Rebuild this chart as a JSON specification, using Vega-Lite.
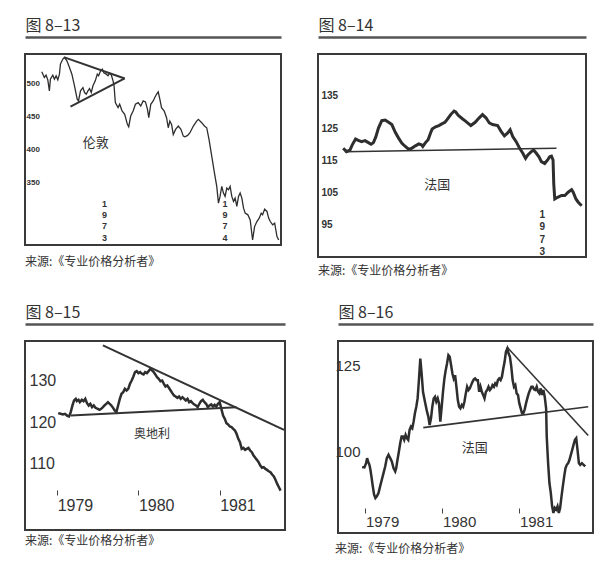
{
"$schema": "https://vega.github.io/schema/vega-lite/v6.json",
"background": "white",
"padding": {"left": 24, "top": 16, "right": 0, "bottom": 0},
"config": {
  "view": {"stroke": "#3a3a3a", "strokeWidth": 2},
  "font": "Noto Sans CJK SC",
  "axis": {"grid": false},
  "title": {"font": "Noto Sans CJK SC", "fontSize": 12, "fontWeight": "normal", "color": "#333", "anchor": "start", "orient": "bottom"}
},
"datasets": {
  "p1": [{"t":16.7,"v":517.2},{"t":19.3,"v":508.6},{"t":21,"v":512.1},{"t":22.7,"v":505},{"t":24.3,"v":488.4},{"t":25.3,"v":506},{"t":27.7,"v":512},{"t":29.3,"v":506},{"t":31,"v":511},{"t":32.7,"v":505},{"t":34.3,"v":513.6},{"t":35.3,"v":528.8},{"t":37.7,"v":536.4},{"t":39.3,"v":538.9},{"t":41.7,"v":533.8},{"t":44.3,"v":523.7},{"t":46.7,"v":513.6},{"t":49.3,"v":496},{"t":52,"v":475.8},{"t":53.3,"v":473.2},{"t":55.3,"v":488.4},{"t":57.7,"v":493.4},{"t":59.3,"v":485.9},{"t":61,"v":483.3},{"t":62.7,"v":488.4},{"t":64.3,"v":491.9},{"t":66,"v":485.9},{"t":67.7,"v":496},{"t":70,"v":503.5},{"t":72,"v":513.6},{"t":73.3,"v":511.1},{"t":75.3,"v":518.7},{"t":77,"v":521.2},{"t":78.7,"v":515.2},{"t":81,"v":513.6},{"t":82.7,"v":511.1},{"t":84.3,"v":515.2},{"t":86,"v":512.1},{"t":87.7,"v":503.5},{"t":88.7,"v":496},{"t":90,"v":470.7},{"t":92.7,"v":463.1},{"t":94.3,"v":468.2},{"t":96.7,"v":458.1},{"t":99.3,"v":453},{"t":102,"v":437.9},{"t":103.3,"v":434.3},{"t":105.3,"v":450.5},{"t":107.7,"v":458.1},{"t":110,"v":468.2},{"t":112.7,"v":470.7},{"t":115.3,"v":465.7},{"t":117.7,"v":473.2},{"t":120,"v":471.7},{"t":122,"v":460.6},{"t":123.3,"v":448},{"t":125.3,"v":468.2},{"t":127.7,"v":473.2},{"t":129.3,"v":478.3},{"t":131,"v":483.3},{"t":132.7,"v":486.9},{"t":134.3,"v":475.8},{"t":136,"v":463.1},{"t":138.7,"v":458.1},{"t":141,"v":448},{"t":142.7,"v":432.8},{"t":144.3,"v":442.9},{"t":146,"v":437.9},{"t":147.7,"v":422.7},{"t":150,"v":430.3},{"t":152.7,"v":435.4},{"t":155.3,"v":430.3},{"t":157.7,"v":420.2},{"t":159.3,"v":419.2},{"t":162,"v":421.2},{"t":164.3,"v":425.3},{"t":167.7,"v":435.4},{"t":171,"v":442.9},{"t":172.7,"v":445.5},{"t":176,"v":440.4},{"t":178.7,"v":435.4},{"t":181,"v":432.8},{"t":183.3,"v":415.2},{"t":186,"v":389.9},{"t":188.7,"v":364.6},{"t":191,"v":344.4},{"t":192.7,"v":319.2},{"t":194.3,"v":329.3},{"t":196,"v":344.4},{"t":197.7,"v":334.3},{"t":199.3,"v":329.3},{"t":201,"v":341.9},{"t":202.7,"v":339.4},{"t":204.3,"v":344.4},{"t":206,"v":329.3},{"t":207.7,"v":321.7},{"t":209.3,"v":326.8},{"t":211,"v":314.1},{"t":212.7,"v":329.3},{"t":214.3,"v":334.3},{"t":216,"v":326.8},{"t":217.7,"v":311.6},{"t":219.3,"v":304},{"t":222,"v":301.5},{"t":224.3,"v":293.9},{"t":226.7,"v":263.6},{"t":228.7,"v":283.8},{"t":231,"v":291.4},{"t":233.3,"v":296.5},{"t":235.3,"v":304},{"t":236.7,"v":301.5},{"t":238.7,"v":310.1},{"t":241,"v":306.6},{"t":242.7,"v":296.5},{"t":244.3,"v":291.4},{"t":246.7,"v":286.4},{"t":248.7,"v":288.9},{"t":251,"v":268.7},{"t":252.7,"v":263.6}],
  "p1t": [{"seg":"a","t":39.3,"v":538.9},{"seg":"a","t":99.3,"v":507.1},{"seg":"b","t":45.3,"v":464.6},{"seg":"b","t":99.3,"v":507.1}],
  "p1y": [{"t":79.3,"label":"1\n9\n7\n3"},{"t":199.3,"label":"1\n9\n7\n4"}],
  "p2": [{"t":25,"v":118.75},{"t":28.3,"v":117.7},{"t":31.7,"v":118.2},{"t":34,"v":119.8},{"t":37.3,"v":121.6},{"t":40,"v":121.2},{"t":43.3,"v":120.8},{"t":46.7,"v":121.1},{"t":50,"v":120.5},{"t":52.7,"v":120},{"t":55,"v":120.5},{"t":57.3,"v":122.2},{"t":60,"v":125},{"t":63.3,"v":127.3},{"t":66.7,"v":127.5},{"t":70,"v":126.8},{"t":73.3,"v":126.1},{"t":76.7,"v":123.7},{"t":80,"v":121.9},{"t":83.3,"v":120.3},{"t":86.7,"v":119.3},{"t":90,"v":118.4},{"t":93.3,"v":118.8},{"t":96.7,"v":119.5},{"t":100,"v":120.1},{"t":102.7,"v":119.8},{"t":104,"v":119.3},{"t":106.7,"v":120.5},{"t":109.3,"v":121.4},{"t":111.7,"v":123.5},{"t":113.3,"v":124.7},{"t":116.7,"v":125.4},{"t":120,"v":125.8},{"t":123.3,"v":126.4},{"t":126,"v":126.8},{"t":128.3,"v":127.7},{"t":131.7,"v":129.2},{"t":135,"v":130.3},{"t":136.7,"v":130},{"t":139.3,"v":128.9},{"t":143.3,"v":127.9},{"t":146.7,"v":127.1},{"t":151.7,"v":125.8},{"t":156,"v":126.8},{"t":160,"v":128.2},{"t":163.3,"v":129.2},{"t":166.7,"v":128.2},{"t":170,"v":126.6},{"t":173.3,"v":126.1},{"t":178.3,"v":125.8},{"t":181.7,"v":124},{"t":185,"v":122.6},{"t":188.3,"v":123.5},{"t":190.7,"v":124.5},{"t":193.3,"v":122.4},{"t":196.7,"v":120.8},{"t":200,"v":118.8},{"t":203.3,"v":117.2},{"t":206,"v":115.6},{"t":208.3,"v":116.7},{"t":211.7,"v":117.7},{"t":214,"v":118.2},{"t":216.7,"v":117.2},{"t":219.3,"v":116.1},{"t":221.7,"v":114.6},{"t":225,"v":114},{"t":228.3,"v":115.3},{"t":230,"v":116.1},{"t":231.7,"v":116.3},{"t":233.3,"v":115.1},{"t":234,"v":107.7},{"t":235,"v":103},{"t":238.3,"v":103.6},{"t":241.7,"v":104.1},{"t":245,"v":104.1},{"t":248.3,"v":105.1},{"t":251.7,"v":105.9},{"t":253.3,"v":105.1},{"t":256,"v":103},{"t":258.3,"v":102},{"t":261.7,"v":100.9}],
  "p2t": [{"seg":"a","t":26.7,"v":117.7},{"seg":"a","t":236.7,"v":118.75}],
  "p2y": [{"t":222.7,"label":"1\n9\n7\n3"}],
  "p3": [{"year":1979.013,"v":122.13},{"year":1979.042,"v":121.97},{"year":1979.071,"v":121.81},{"year":1979.096,"v":121.97},{"year":1979.125,"v":121.49},{"year":1979.146,"v":121.33},{"year":1979.167,"v":122.37},{"year":1979.188,"v":123.98},{"year":1979.208,"v":125.18},{"year":1979.229,"v":125.58},{"year":1979.242,"v":125.02},{"year":1979.263,"v":125.34},{"year":1979.279,"v":124.78},{"year":1979.304,"v":125.34},{"year":1979.325,"v":125.02},{"year":1979.346,"v":125.58},{"year":1979.367,"v":124.54},{"year":1979.388,"v":123.98},{"year":1979.408,"v":124.38},{"year":1979.429,"v":123.57},{"year":1979.45,"v":123.98},{"year":1979.471,"v":123.41},{"year":1979.5,"v":123.17},{"year":1979.521,"v":122.93},{"year":1979.542,"v":123.17},{"year":1979.563,"v":123.57},{"year":1979.583,"v":123.98},{"year":1979.604,"v":124.38},{"year":1979.625,"v":124.78},{"year":1979.646,"v":124.38},{"year":1979.667,"v":123.98},{"year":1979.688,"v":123.41},{"year":1979.708,"v":122.77},{"year":1979.729,"v":122.37},{"year":1979.75,"v":123.98},{"year":1979.771,"v":125.58},{"year":1979.792,"v":126.79},{"year":1979.813,"v":127.19},{"year":1979.833,"v":127.99},{"year":1979.854,"v":127.59},{"year":1979.875,"v":127.99},{"year":1979.896,"v":129.2},{"year":1979.917,"v":130},{"year":1979.938,"v":130.96},{"year":1979.958,"v":132.01},{"year":1979.979,"v":132.25},{"year":1980.0,"v":131.77},{"year":1980.021,"v":132.01},{"year":1980.042,"v":131.61},{"year":1980.063,"v":131.45},{"year":1980.083,"v":132.01},{"year":1980.104,"v":131.77},{"year":1980.125,"v":132.25},{"year":1980.146,"v":132.81},{"year":1980.167,"v":132.41},{"year":1980.188,"v":132.01},{"year":1980.208,"v":131.45},{"year":1980.229,"v":130.8},{"year":1980.25,"v":130.4},{"year":1980.271,"v":129.84},{"year":1980.292,"v":130},{"year":1980.313,"v":129.2},{"year":1980.333,"v":128.55},{"year":1980.354,"v":128.8},{"year":1980.375,"v":128.23},{"year":1980.396,"v":127.59},{"year":1980.417,"v":126.95},{"year":1980.438,"v":126.39},{"year":1980.458,"v":126.14},{"year":1980.479,"v":125.82},{"year":1980.5,"v":126.14},{"year":1980.521,"v":125.58},{"year":1980.542,"v":125.98},{"year":1980.563,"v":125.58},{"year":1980.583,"v":125.18},{"year":1980.604,"v":125.58},{"year":1980.625,"v":124.78},{"year":1980.646,"v":125.02},{"year":1980.667,"v":124.54},{"year":1980.688,"v":124.22},{"year":1980.708,"v":123.98},{"year":1980.729,"v":123.57},{"year":1980.75,"v":124.38},{"year":1980.771,"v":125.02},{"year":1980.792,"v":125.34},{"year":1980.813,"v":124.78},{"year":1980.833,"v":124.38},{"year":1980.854,"v":123.57},{"year":1980.875,"v":123.98},{"year":1980.896,"v":124.22},{"year":1980.917,"v":123.73},{"year":1980.938,"v":124.14},{"year":1980.958,"v":123.73},{"year":1980.979,"v":124.38},{"year":1981.0,"v":124.78},{"year":1981.021,"v":123.17},{"year":1981.042,"v":121.57},{"year":1981.063,"v":120.76},{"year":1981.083,"v":119.72},{"year":1981.104,"v":119.4},{"year":1981.125,"v":118.92},{"year":1981.146,"v":118.76},{"year":1981.167,"v":118.35},{"year":1981.188,"v":117.95},{"year":1981.208,"v":117.15},{"year":1981.229,"v":115.94},{"year":1981.25,"v":115.14},{"year":1981.271,"v":113.53},{"year":1981.292,"v":113.78},{"year":1981.313,"v":113.29},{"year":1981.333,"v":113.53},{"year":1981.354,"v":113.78},{"year":1981.375,"v":113.13},{"year":1981.396,"v":112.73},{"year":1981.417,"v":111.93},{"year":1981.438,"v":111.37},{"year":1981.458,"v":110.88},{"year":1981.479,"v":110.32},{"year":1981.5,"v":109.52},{"year":1981.521,"v":108.96},{"year":1981.542,"v":109.12},{"year":1981.563,"v":108.71},{"year":1981.583,"v":108.47},{"year":1981.604,"v":108.15},{"year":1981.625,"v":107.91},{"year":1981.646,"v":107.35},{"year":1981.667,"v":106.87},{"year":1981.688,"v":106.06},{"year":1981.708,"v":105.1},{"year":1981.729,"v":104.3},{"year":1981.75,"v":103.49}],
  "p3t": [{"seg":"a","year":1979.563,"v":138.43},{"seg":"a","year":1981.792,"v":118.11},{"seg":"b","year":1979.167,"v":121.57},{"seg":"b","year":1981.208,"v":123.57}],
  "p4": [{"year":1978.957,"v":95.48},{"year":1978.987,"v":95.38},{"year":1979.009,"v":96.63},{"year":1979.022,"v":98.08},{"year":1979.035,"v":97.12},{"year":1979.052,"v":96.15},{"year":1979.065,"v":94.71},{"year":1979.078,"v":92.79},{"year":1979.096,"v":89.9},{"year":1979.113,"v":87.5},{"year":1979.13,"v":86.54},{"year":1979.148,"v":87.02},{"year":1979.17,"v":87.98},{"year":1979.191,"v":89.9},{"year":1979.213,"v":91.83},{"year":1979.235,"v":93.75},{"year":1979.257,"v":95.67},{"year":1979.278,"v":98.08},{"year":1979.3,"v":99.04},{"year":1979.322,"v":98.08},{"year":1979.343,"v":97.12},{"year":1979.365,"v":95.19},{"year":1979.387,"v":94.23},{"year":1979.4,"v":95.19},{"year":1979.413,"v":97.12},{"year":1979.435,"v":100},{"year":1979.452,"v":102.4},{"year":1979.47,"v":104.33},{"year":1979.487,"v":104.33},{"year":1979.504,"v":103.37},{"year":1979.522,"v":104.81},{"year":1979.539,"v":103.85},{"year":1979.556,"v":103.37},{"year":1979.574,"v":106.25},{"year":1979.591,"v":107.21},{"year":1979.609,"v":106.73},{"year":1979.626,"v":108.65},{"year":1979.643,"v":111.06},{"year":1979.661,"v":112.98},{"year":1979.678,"v":115.38},{"year":1979.695,"v":120.67},{"year":1979.713,"v":126.92},{"year":1979.73,"v":122.6},{"year":1979.748,"v":117.31},{"year":1979.765,"v":115.38},{"year":1979.782,"v":113.46},{"year":1979.8,"v":111.54},{"year":1979.817,"v":110.1},{"year":1979.834,"v":107.69},{"year":1979.852,"v":109.62},{"year":1979.869,"v":112.98},{"year":1979.887,"v":115.38},{"year":1979.904,"v":115.87},{"year":1979.921,"v":114.42},{"year":1979.939,"v":115.38},{"year":1979.956,"v":113.94},{"year":1979.973,"v":108.65},{"year":1979.991,"v":112.98},{"year":1980.008,"v":117.31},{"year":1980.026,"v":121.15},{"year":1980.043,"v":123.56},{"year":1980.06,"v":125.48},{"year":1980.078,"v":127.88},{"year":1980.095,"v":127.4},{"year":1980.113,"v":125},{"year":1980.13,"v":122.6},{"year":1980.147,"v":121.15},{"year":1980.165,"v":122.12},{"year":1980.182,"v":118.75},{"year":1980.2,"v":114.9},{"year":1980.217,"v":112.98},{"year":1980.234,"v":112.5},{"year":1980.252,"v":113.46},{"year":1980.269,"v":112.98},{"year":1980.286,"v":114.42},{"year":1980.304,"v":116.83},{"year":1980.321,"v":118.75},{"year":1980.339,"v":117.79},{"year":1980.356,"v":118.27},{"year":1980.373,"v":119.23},{"year":1980.391,"v":120.19},{"year":1980.408,"v":120.87},{"year":1980.425,"v":121.15},{"year":1980.443,"v":120.67},{"year":1980.46,"v":120.67},{"year":1980.478,"v":117.31},{"year":1980.495,"v":118.75},{"year":1980.512,"v":117.31},{"year":1980.53,"v":116.35},{"year":1980.547,"v":115.38},{"year":1980.565,"v":117.31},{"year":1980.582,"v":117.79},{"year":1980.599,"v":118.75},{"year":1980.617,"v":117.79},{"year":1980.634,"v":118.27},{"year":1980.651,"v":119.23},{"year":1980.669,"v":118.75},{"year":1980.686,"v":119.71},{"year":1980.704,"v":119.23},{"year":1980.721,"v":120.67},{"year":1980.738,"v":121.15},{"year":1980.756,"v":120.67},{"year":1980.773,"v":121.63},{"year":1980.791,"v":124.04},{"year":1980.808,"v":125.96},{"year":1980.825,"v":128.85},{"year":1980.843,"v":129.81},{"year":1980.86,"v":128.37},{"year":1980.877,"v":127.4},{"year":1980.895,"v":124.52},{"year":1980.912,"v":120.67},{"year":1980.93,"v":118.75},{"year":1980.947,"v":119.23},{"year":1980.964,"v":116.83},{"year":1980.982,"v":116.35},{"year":1980.999,"v":113.94},{"year":1981.017,"v":112.5},{"year":1981.034,"v":111.06},{"year":1981.051,"v":111.06},{"year":1981.069,"v":112.21},{"year":1981.086,"v":113.94},{"year":1981.103,"v":115.38},{"year":1981.121,"v":116.83},{"year":1981.138,"v":117.79},{"year":1981.156,"v":118.75},{"year":1981.173,"v":118.75},{"year":1981.19,"v":117.98},{"year":1981.208,"v":117.79},{"year":1981.225,"v":118.75},{"year":1981.243,"v":117.31},{"year":1981.26,"v":116.83},{"year":1981.277,"v":118.27},{"year":1981.295,"v":116.35},{"year":1981.312,"v":117.79},{"year":1981.329,"v":115.87},{"year":1981.347,"v":112.5},{"year":1981.355,"v":104.33},{"year":1981.373,"v":96.63},{"year":1981.39,"v":90.87},{"year":1981.408,"v":87.98},{"year":1981.425,"v":84.13},{"year":1981.442,"v":82.21},{"year":1981.46,"v":83.65},{"year":1981.477,"v":83.17},{"year":1981.495,"v":84.13},{"year":1981.512,"v":82.21},{"year":1981.529,"v":83.65},{"year":1981.547,"v":87.02},{"year":1981.564,"v":89.9},{"year":1981.582,"v":92.79},{"year":1981.599,"v":95.19},{"year":1981.616,"v":96.15},{"year":1981.634,"v":96.63},{"year":1981.651,"v":97.6},{"year":1981.668,"v":99.04},{"year":1981.686,"v":100.48},{"year":1981.703,"v":101.92},{"year":1981.721,"v":103.37},{"year":1981.738,"v":103.85},{"year":1981.755,"v":100.48},{"year":1981.773,"v":96.63},{"year":1981.79,"v":96.15},{"year":1981.812,"v":96.63},{"year":1981.834,"v":96.15},{"year":1981.855,"v":95.67}],
  "p4t": [{"seg":"a","year":1980.838,"v":130.29},{"seg":"a","year":1981.894,"v":104.62},{"seg":"b","year":1979.752,"v":106.92},{"seg":"b","year":1981.894,"v":112.98}]
},
"spacing": 24,
"vconcat": [
  {"spacing": 35, "hconcat": [
    {"width": 256, "height": 191,
     "title": {"text": "来源:《专业价格分析者》", "offset": 12},
     "layer": [
       {"data": {"name": "p1"}, "mark": {"type": "line", "color": "#2e2e2e", "strokeWidth": 1.3, "clip": true},
        "encoding": {
          "x": {"field": "t", "type": "quantitative", "scale": {"domain": [0, 255], "nice": false, "zero": false},
                "axis": {"orient": "top", "offset": 17, "domain": true, "domainWidth": 2.5, "domainColor": "#555", "ticks": false, "labels": false, "title": "图 8–13", "titleAnchor": "start", "titleAlign": "left", "titleFontSize": 16, "titleFontWeight": "normal", "titleColor": "#333", "titlePadding": 4, "titleFont": "Noto Sans CJK SC"}},
          "y": {"field": "v", "type": "quantitative", "scale": {"domain": [256, 544], "nice": false, "zero": false},
                "axis": {"orient": "left", "values": [350, 400, 450, 500], "domain": false, "ticks": false, "labelAlign": "left", "labelPadding": -1, "labelFontSize": 8, "labelFontWeight": "bold", "labelFont": "Liberation Sans, sans-serif", "labelColor": "#333", "title": null}}
        }},
       {"data": {"name": "p1t"}, "mark": {"type": "line", "color": "#333", "strokeWidth": 2},
        "encoding": {"x": {"field": "t", "type": "quantitative"}, "y": {"field": "v", "type": "quantitative"}, "detail": {"field": "seg"}}},
       {"data": {"name": "p1y"}, "mark": {"type": "text", "lineBreak": "\n", "align": "center", "baseline": "top", "fontSize": 9, "fontWeight": "bold", "lineHeight": 11.3, "font": "Liberation Sans, sans-serif", "color": "#333"},
        "encoding": {"x": {"field": "t", "type": "quantitative"}, "y": {"datum": 324}, "text": {"field": "label"}}},
       {"data": {"values": [{"t": 70.5, "v": 410, "label": "伦敦"}]}, "mark": {"type": "text", "fontSize": 13, "color": "#333", "align": "center", "baseline": "middle"},
        "encoding": {"x": {"field": "t", "type": "quantitative"}, "y": {"field": "v", "type": "quantitative"}, "text": {"field": "label"}}}
     ]},
    {"width": 268, "height": 203,
     "title": {"text": "来源:《专业价格分析者》", "offset": 9},
     "layer": [
       {"data": {"name": "p2"}, "mark": {"type": "line", "color": "#2e2e2e", "strokeWidth": 3, "clip": true},
        "encoding": {
          "x": {"field": "t", "type": "quantitative", "scale": {"domain": [0, 266], "nice": false, "zero": false},
                "axis": {"orient": "top", "offset": 17, "domain": true, "domainWidth": 2.5, "domainColor": "#555", "ticks": false, "labels": false, "title": "图 8–14", "titleAnchor": "start", "titleAlign": "left", "titleFontSize": 16, "titleFontWeight": "normal", "titleColor": "#333", "titlePadding": 4, "titleFont": "Noto Sans CJK SC"}},
          "y": {"field": "v", "type": "quantitative", "scale": {"domain": [85, 148], "nice": false, "zero": false},
                "axis": {"orient": "left", "values": [95, 105, 115, 125, 135], "domain": false, "ticks": false, "labelAlign": "left", "labelPadding": -3, "labelFontSize": 10, "labelFontWeight": "bold", "labelFont": "Liberation Sans, sans-serif", "labelColor": "#333", "title": null}}
        }},
       {"data": {"name": "p2t"}, "mark": {"type": "line", "color": "#333", "strokeWidth": 1.5},
        "encoding": {"x": {"field": "t", "type": "quantitative"}, "y": {"field": "v", "type": "quantitative"}, "detail": {"field": "seg"}}},
       {"data": {"name": "p2y"}, "mark": {"type": "text", "lineBreak": "\n", "align": "center", "baseline": "top", "fontSize": 10, "fontWeight": "bold", "lineHeight": 12.5, "font": "Liberation Sans, sans-serif", "color": "#333"},
        "encoding": {"x": {"field": "t", "type": "quantitative"}, "y": {"datum": 99.7}, "text": {"field": "label"}}},
       {"data": {"values": [{"t": 118.3, "v": 107.2, "label": "法国"}]}, "mark": {"type": "text", "fontSize": 13, "color": "#333", "align": "center", "baseline": "middle"},
        "encoding": {"x": {"field": "t", "type": "quantitative"}, "y": {"field": "v", "type": "quantitative"}, "text": {"field": "label"}}}
     ]}
  ]},
  {"spacing": 44, "hconcat": [
    {"width": 260, "height": 189,
     "title": {"text": "来源:《专业价格分析者》", "offset": 6},
     "resolve": {"axis": {"x": "independent"}},
     "layer": [
       {"data": {"name": "p3"}, "mark": {"type": "line", "color": "#2e2e2e", "strokeWidth": 2.5, "clip": true},
        "encoding": {
          "x": {"field": "year", "type": "quantitative", "scale": {"domain": [1978.604, 1981.804], "nice": false, "zero": false},
                "axis": {"orient": "bottom", "offset": -40, "values": [1979, 1980, 1981], "format": "d", "domain": false, "ticks": true, "tickSize": 5, "tickColor": "#444", "tickWidth": 1, "labelAlign": "left", "labelDx": -3, "labelPadding": 2, "labelFontSize": 16, "labelFont": "Liberation Sans, sans-serif", "labelColor": "#333", "title": null}},
          "y": {"field": "v", "type": "quantitative", "scale": {"domain": [94, 139.5], "nice": false, "zero": false},
                "axis": {"orient": "left", "values": [110, 120, 130], "domain": false, "ticks": false, "labelAlign": "left", "labelPadding": -4, "labelFontSize": 16, "labelFont": "Liberation Sans, sans-serif", "labelColor": "#333", "title": null}}
        }},
       {"data": {"name": "p3t"}, "mark": {"type": "line", "color": "#333", "strokeWidth": 2},
        "encoding": {"x": {"field": "year", "type": "quantitative",
                "axis": {"orient": "top", "offset": 17, "domain": true, "domainWidth": 2.5, "domainColor": "#555", "ticks": false, "labels": false, "title": "图 8–15", "titleAnchor": "start", "titleAlign": "left", "titleFontSize": 16, "titleFontWeight": "normal", "titleColor": "#333", "titlePadding": 4, "titleFont": "Noto Sans CJK SC"}},
                     "y": {"field": "v", "type": "quantitative"}, "detail": {"field": "seg"}}},
       {"data": {"values": [{"year": 1980.167, "v": 117, "label": "奥地利"}]}, "mark": {"type": "text", "fontSize": 12, "color": "#333", "align": "center", "baseline": "middle"},
        "encoding": {"x": {"field": "year", "type": "quantitative", "axis": null}, "y": {"field": "v", "type": "quantitative"}, "text": {"field": "label"}}}
     ]},
    {"width": 255, "height": 192,
     "title": {"text": "来源:《专业价格分析者》", "offset": 11},
     "resolve": {"axis": {"x": "independent"}},
     "layer": [
       {"data": {"name": "p4"}, "mark": {"type": "line", "color": "#2e2e2e", "strokeWidth": 2.5, "clip": true},
        "encoding": {
          "x": {"field": "year", "type": "quantitative", "scale": {"domain": [1978.644, 1981.956], "nice": false, "zero": false},
                "axis": {"orient": "bottom", "offset": -25, "values": [1979, 1980, 1981], "format": "d", "domain": false, "ticks": true, "tickSize": 5, "tickColor": "#444", "tickWidth": 1, "labelAlign": "left", "labelDx": -3, "labelPadding": 1, "labelFontSize": 15, "labelFont": "Liberation Sans, sans-serif", "labelColor": "#333", "title": null}},
          "y": {"field": "v", "type": "quantitative", "scale": {"domain": [76.4, 132], "nice": false, "zero": false},
                "axis": {"orient": "left", "values": [100, 125], "domain": false, "ticks": false, "labelAlign": "left", "labelPadding": 3, "labelFontSize": 15, "labelFont": "Liberation Sans, sans-serif", "labelColor": "#333", "title": null}}
        }},
       {"data": {"name": "p4t"}, "mark": {"type": "line", "color": "#333", "strokeWidth": 1.6},
        "encoding": {"x": {"field": "year", "type": "quantitative",
                "axis": {"orient": "top", "offset": 17, "domain": true, "domainWidth": 2.5, "domainColor": "#555", "ticks": false, "labels": false, "title": "图 8–16", "titleAnchor": "start", "titleAlign": "left", "titleFontSize": 16, "titleFontWeight": "normal", "titleColor": "#333", "titlePadding": 4, "titleFont": "Noto Sans CJK SC"}},
                     "y": {"field": "v", "type": "quantitative"}, "detail": {"field": "seg"}}},
       {"data": {"values": [{"year": 1980.42, "v": 100.96, "label": "法国"}]}, "mark": {"type": "text", "fontSize": 13, "color": "#333", "align": "center", "baseline": "middle"},
        "encoding": {"x": {"field": "year", "type": "quantitative", "axis": null}, "y": {"field": "v", "type": "quantitative"}, "text": {"field": "label"}}}
     ]}
  ]}
]
}
